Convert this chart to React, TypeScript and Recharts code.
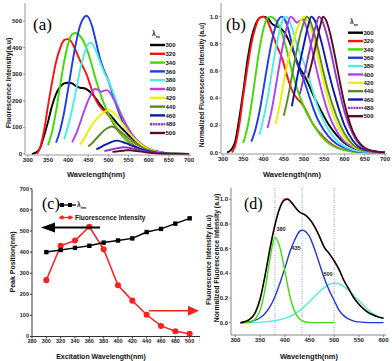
import React from 'react';
import { LineChart, Line, XAxis, YAxis, ReferenceLine } from 'recharts';

// ---------- Panel (a): fluorescence intensity vs wavelength ----------
const a300 = [[310,0],[320,5],[330,21],[340,67],[350,120],[360,180],[370,225],[380,252],[390,265],[400,268],[410,265],[420,255],[430,249],[440,247],[450,239],[460,225],[470,206],[480,185],[490,166],[500,153],[510,137],[520,118],[540,86],[560,56],[580,35],[600,19],[620,9],[640,4],[660,1.5],[700,0]];
const a320 = [[322,0],[330,22],[340,86],[350,180],[360,268],[370,345],[380,397],[390,428],[398,432],[405,428],[415,402],[425,367],[435,333],[445,302],[455,259],[465,216],[475,186],[485,168],[495,155],[505,134],[520,95],[540,60],[560,35],[580,17],[600,9],[630,2],[700,0]];
const a340 = [[350,32],[360,82],[370,160],[380,255],[390,346],[400,414],[410,450],[418,455],[425,450],[435,432],[445,400],[455,355],[465,300],[475,250],[485,205],[495,168],[505,137],[520,100],[540,59],[560,32],[580,16],[600,8],[630,2],[700,0]];
const a360 = [[370,42],[380,88],[390,156],[400,244],[410,338],[420,421],[430,484],[440,515],[445,520],[450,515],[460,478],[470,416],[480,354],[490,312],[500,276],[510,229],[520,182],[530,140],[540,109],[560,62],[580,34],[600,18],[620,8],[650,2],[700,0]];
const a380 = [[390,54],[400,105],[410,167],[420,242],[430,318],[440,376],[450,414],[455,418],[460,414],[470,385],[480,343],[490,305],[500,276],[510,238],[520,196],[530,155],[540,121],[560,71],[580,38],[600,19],[620,8],[650,2],[700,0]];
const a400 = [[410,44],[420,76],[430,118],[440,162],[450,201],[460,233],[467,245],[475,240],[482,234],[490,238],[497,240],[505,228],[515,201],[525,169],[535,137],[545,108],[560,71],[580,39],[600,20],[620,10],[650,2],[700,0]];
const a420 = [[430,35],[440,58],[450,86],[460,111],[470,130],[480,145],[490,158],[500,165],[505,163],[515,153],[525,135],[535,114],[545,92],[560,64],[580,36],[600,18],[620,8],[650,2],[700,0]];
const a440 = [[450,28],[460,41],[470,58],[480,74],[490,89],[500,99],[507,103],[515,100],[525,91],[535,78],[545,65],[560,46],[580,28],[600,14],[620,6],[650,1.5],[700,0]];
const a460 = [[470,17],[480,25],[490,33],[500,40],[510,46.5],[518,50],[525,49],[535,45],[545,39.5],[560,30],[580,19],[600,10],[620,4.5],[650,1],[700,0]];
const a480 = [[490,10.8],[500,14],[510,17.5],[520,20.8],[530,23.5],[537,25],[545,24.3],[555,22],[565,19],[580,13.8],[600,7.5],[620,3.5],[640,1.3],[660,0.4],[700,0]];
const a500 = [[510,7.7],[520,9.4],[530,11.2],[540,13],[547,14],[555,13.6],[565,12.2],[575,10.2],[590,7],[600,5],[620,2.2],[640,0.8],[660,0.3],[700,0]];

// ---------- Panel (b): normalized intensity ----------
const b300 = [[310,0],[320,0.02],[330,0.08],[340,0.25],[350,0.45],[360,0.67],[370,0.84],[380,0.94],[390,0.99],[400,1.0],[410,0.99],[420,0.95],[430,0.93],[440,0.92],[450,0.89],[460,0.84],[470,0.77],[480,0.69],[490,0.62],[500,0.57],[510,0.51],[520,0.44],[540,0.32],[560,0.21],[580,0.13],[600,0.07],[620,0.035],[640,0.015],[660,0.005],[700,0]];
const b320 = [[322,0],[330,0.05],[340,0.2],[350,0.42],[360,0.62],[370,0.8],[380,0.92],[390,0.99],[398,1.0],[405,0.99],[415,0.93],[425,0.85],[435,0.77],[445,0.7],[455,0.6],[465,0.5],[475,0.43],[485,0.39],[495,0.36],[505,0.31],[520,0.22],[540,0.14],[560,0.08],[580,0.04],[600,0.02],[630,0.005],[700,0]];
const b340 = [[350,0.07],[360,0.18],[370,0.35],[380,0.56],[390,0.76],[400,0.91],[410,0.99],[418,1.0],[425,0.99],[435,0.95],[445,0.88],[455,0.78],[465,0.66],[475,0.55],[485,0.45],[495,0.37],[505,0.3],[520,0.22],[540,0.13],[560,0.07],[580,0.035],[600,0.018],[630,0.005],[700,0]];
const b360 = [[370,0.08],[380,0.17],[390,0.3],[400,0.47],[410,0.65],[420,0.81],[430,0.93],[440,0.99],[445,1.0],[450,0.99],[460,0.92],[470,0.8],[480,0.68],[490,0.6],[500,0.53],[510,0.44],[520,0.35],[530,0.27],[540,0.21],[560,0.12],[580,0.065],[600,0.035],[620,0.015],[650,0.004],[700,0]];
const b380 = [[390,0.13],[400,0.25],[410,0.4],[420,0.58],[430,0.76],[440,0.9],[450,0.99],[455,1.0],[460,0.99],[470,0.92],[480,0.82],[490,0.73],[500,0.66],[510,0.57],[520,0.47],[530,0.37],[540,0.29],[560,0.17],[580,0.09],[600,0.045],[620,0.02],[650,0.005],[700,0]];
const b400 = [[410,0.18],[420,0.31],[430,0.48],[440,0.66],[450,0.82],[460,0.95],[467,1.0],[475,0.98],[482,0.955],[490,0.97],[497,0.98],[505,0.93],[515,0.82],[525,0.69],[535,0.56],[545,0.44],[560,0.29],[580,0.16],[600,0.08],[620,0.04],[650,0.01],[700,0]];
const b420 = [[430,0.21],[440,0.35],[450,0.52],[460,0.67],[470,0.79],[480,0.88],[490,0.96],[500,1.0],[505,0.99],[515,0.93],[525,0.82],[535,0.69],[545,0.56],[560,0.39],[580,0.22],[600,0.11],[620,0.05],[650,0.012],[700,0]];
const b440 = [[450,0.27],[460,0.4],[470,0.56],[480,0.72],[490,0.86],[500,0.96],[507,1.0],[515,0.97],[525,0.88],[535,0.76],[545,0.63],[560,0.45],[580,0.27],[600,0.14],[620,0.06],[650,0.015],[700,0]];
const b460 = [[470,0.34],[480,0.5],[490,0.66],[500,0.8],[510,0.93],[518,1.0],[525,0.98],[535,0.9],[545,0.79],[560,0.6],[580,0.38],[600,0.2],[620,0.09],[650,0.02],[700,0]];
const b480 = [[490,0.43],[500,0.56],[510,0.7],[520,0.83],[530,0.94],[537,1.0],[545,0.97],[555,0.88],[565,0.76],[580,0.55],[600,0.3],[620,0.14],[640,0.05],[660,0.015],[700,0]];
const b500 = [[510,0.55],[520,0.67],[530,0.8],[540,0.93],[547,1.0],[555,0.97],[565,0.87],[575,0.73],[590,0.5],[600,0.36],[620,0.16],[640,0.06],[660,0.02],[700,0]];

// ---------- Panel (c): peak position & intensity vs excitation ----------
const excitation = [300,320,340,360,380,400,420,440,460,480,500];
const emissionPeak = [400,410,420,430,445,455,465,495,510,535,560];
const peakIntensity = [267,430,455,520,413,243,170,103,50,25,13];

// ---------- Panel (d): gaussian decomposition ----------
const dTotal = [[310,0],[320,0.01],[330,0.03],[340,0.08],[350,0.19],[360,0.38],[370,0.6],[380,0.79],[390,0.93],[400,0.995],[405,1.0],[410,0.99],[420,0.94],[430,0.895],[440,0.875],[450,0.84],[460,0.78],[470,0.7],[480,0.61],[490,0.56],[500,0.5],[510,0.43],[520,0.34],[530,0.27],[540,0.2],[550,0.15],[560,0.11],[570,0.08],[580,0.06],[590,0.045],[600,0.035]];
const dFit = [[310,0],[320,0.012],[330,0.035],[340,0.085],[350,0.2],[360,0.39],[370,0.61],[380,0.8],[390,0.94],[400,1.005],[405,1.008],[410,0.995],[420,0.945],[430,0.9],[440,0.878],[450,0.842],[460,0.782],[470,0.703],[480,0.612],[490,0.562],[500,0.503],[510,0.432],[520,0.343],[530,0.272],[540,0.203],[550,0.153],[560,0.112],[570,0.082],[580,0.062],[590,0.046],[600,0.036]];
const dPeak380 = [[310,0],[320,0],[330,0.004],[340,0.03],[350,0.1],[360,0.27],[370,0.52],[380,0.69],[390,0.61],[400,0.42],[410,0.22],[420,0.09],[430,0.03],[440,0.008],[450,0.002],[460,0],[500,0]];
const dPeak435 = [[310,0],[320,0.003],[330,0.008],[340,0.02],[350,0.04],[360,0.075],[370,0.13],[380,0.21],[390,0.32],[400,0.44],[410,0.57],[420,0.67],[430,0.74],[435,0.75],[440,0.745],[450,0.7],[460,0.6],[470,0.48],[480,0.36],[490,0.26],[500,0.18],[510,0.1],[520,0.055],[530,0.028],[540,0.013],[550,0.006],[560,0.002],[580,0],[600,0]];
const dPeak500 = [[310,0],[340,0.002],[360,0.006],[380,0.015],[400,0.035],[420,0.07],[440,0.13],[450,0.17],[460,0.21],[470,0.25],[480,0.285],[490,0.31],[500,0.32],[510,0.315],[520,0.29],[530,0.26],[540,0.22],[550,0.18],[560,0.14],[570,0.1],[580,0.07],[590,0.05],[600,0.035]];
const dPeakCenters = [380,435,500];

const exLabels = ['300','320','340','360','380','400','420','440','460','480','500'];
const seriesColors = ['#000000','#ff1010','#3cdc00','#1e3ce8','#48f0e0','#b040f0','#eaf000','#5a8a22','#0a1ca8','#9034d4','#5a0c22'];

const aSeries = [a300,a320,a340,a360,a380,a400,a420,a440,a460,a480,a500];
const bSeries = [b300,b320,b340,b360,b380,b400,b420,b440,b460,b480,b500];

const toPts = (arr: number[][]) => arr.map(([x, y]) => ({ x, y }));
const FONT = "'Liberation Sans', Arial, sans-serif";
const SERIF = "'Liberation Serif', 'Times New Roman', serif";
const tickStyle = { fontSize: 6, fontFamily: FONT, fontWeight: 700, fill: '#222' };

function Frame({ domainX, domainY, color }: any) {
  return [
    <XAxis key="tx" xAxisId="top" orientation="top" type="number" domain={domainX} allowDataOverflow tick={false} tickLine={false} height={0} stroke={color} />,
    <YAxis key="ry" yAxisId="right" orientation="right" type="number" domain={domainY} allowDataOverflow tick={false} tickLine={false} width={0} stroke={color} />,
  ];
}

function PanelA() {
  const dx = [293, 705];
  const dy = [-4, 567.7];
  return (
    <LineChart width={196} height={180} margin={{ top: 3, right: 5, bottom: 0, left: 0 }}>
      <XAxis type="number" dataKey="x" domain={dx} allowDataOverflow ticks={[300,350,400,450,500,550,600,650,700]} interval={0} height={25} tickSize={2} tickMargin={1} tick={tickStyle} stroke="#999" />
      <YAxis type="number" dataKey="y" domain={dy} allowDataOverflow ticks={[0,100,200,300,400,500]} interval={0} width={25} tickSize={2} tickMargin={1} tick={tickStyle} stroke="#999" />
      {Frame({ domainX: dx, domainY: dy, color: '#999' })}
      {aSeries.map((s, i) => (
        <Line key={i} data={toPts(s)} dataKey="y" type="monotone" stroke={seriesColors[i]} strokeWidth={1.9} dot={false} isAnimationActive={false} />
      ))}
    </LineChart>
  );
}

function PanelB() {
  const dx = [295, 705];
  const dy = [-0.011, 1.1];
  return (
    <LineChart width={196} height={180} margin={{ top: 3, right: 5, bottom: 0, left: 0 }}>
      <XAxis type="number" dataKey="x" domain={dx} allowDataOverflow ticks={[300,350,400,450,500,550,600,650,700]} interval={0} height={26} tickSize={2} tickMargin={1} tick={tickStyle} stroke="#999" />
      <YAxis type="number" dataKey="y" domain={dy} allowDataOverflow ticks={[0,0.2,0.4,0.6,0.8,1.0]} tickFormatter={(v: number) => v.toFixed(1)} interval={0} width={25} tickSize={2} tickMargin={1} tick={tickStyle} stroke="#999" />
      {Frame({ domainX: dx, domainY: dy, color: '#999' })}
      {bSeries.map((s, i) => (
        <Line key={i} data={toPts(s)} dataKey="y" type="monotone" stroke={seriesColors[i]} strokeWidth={1.9} dot={false} isAnimationActive={false} />
      ))}
    </LineChart>
  );
}

const SquareDot = (p: any) => (
  <rect key={`sq-${p.index}`} x={p.cx - 2.2} y={p.cy - 2.2} width={4.4} height={4.4} fill="#000" />
);

function PanelC() {
  const data = excitation.map((x, i) => ({ x, em: emissionPeak[i], fi: peakIntensity[i] }));
  return (
    <LineChart width={212} height={186} data={data} margin={{ top: 13.8, right: 8, bottom: 0, left: 0 }}>
      <XAxis type="number" dataKey="x" domain={[280, 520]} allowDataOverflow ticks={[280,300,320,340,360,380,400,420,440,460,480,500,520]} interval={0} height={24.5} tickSize={2} tickMargin={1} tick={{ ...tickStyle, fontSize: 5.5 }} stroke="#333" />
      <YAxis type="number" domain={[0, 700]} allowDataOverflow ticks={[0,100,200,300,400,500,600,700]} interval={0} width={32} tickSize={2} tickMargin={1} tick={{ ...tickStyle, fontSize: 5.5 }} stroke="#333" />
      <Line dataKey="fi" type="linear" stroke="#ff2020" strokeWidth={1.5} dot={{ r: 2.3, fill: '#ff2020', stroke: '#ff2020' }} isAnimationActive={false} />
      <Line dataKey="em" type="linear" stroke="#000" strokeWidth={1.5} dot={SquareDot} isAnimationActive={false} />
    </LineChart>
  );
}

function PanelD() {
  const dx = [291, 605];
  const dy = [-0.1, 1.094];
  return (
    <LineChart width={196} height={186} margin={{ top: 12.7, right: 6, bottom: 0, left: 0 }}>
      <XAxis type="number" dataKey="x" domain={dx} allowDataOverflow ticks={[300,350,400,450,500,550,600]} interval={0} height={26} tickSize={2} tickMargin={1} tick={tickStyle} stroke="#888" />
      <YAxis type="number" dataKey="y" domain={dy} allowDataOverflow ticks={[0,0.2,0.4,0.6,0.8,1.0]} tickFormatter={(v: number) => v.toFixed(1)} interval={0} width={35} tickSize={2} tickMargin={1} tick={tickStyle} stroke="#888" />
      {Frame({ domainX: dx, domainY: dy, color: '#888' })}
      {dPeakCenters.map((c) => (
        <ReferenceLine key={c} x={c} stroke="#2a3580" strokeWidth={0.6} strokeDasharray="0.8 1.6" />
      ))}
      <Line data={toPts(dPeak500)} dataKey="y" type="monotone" stroke="#50ecdc" strokeWidth={1.4} dot={false} isAnimationActive={false} />
      <Line data={toPts(dPeak435)} dataKey="y" type="monotone" stroke="#2034e0" strokeWidth={1.4} dot={false} isAnimationActive={false} />
      <Line data={toPts(dPeak380)} dataKey="y" type="monotone" stroke="#40dc10" strokeWidth={1.4} dot={false} isAnimationActive={false} />
      <Line data={toPts(dFit)} dataKey="y" type="monotone" stroke="#ff6060" strokeWidth={1.2} dot={false} isAnimationActive={false} />
      <Line data={toPts(dTotal)} dataKey="y" type="monotone" stroke="#000" strokeWidth={1.5} dot={false} isAnimationActive={false} />
    </LineChart>
  );
}

function LegendEx({ x, y0, step }: { x: number; y0: number; step: number }) {
  return (
    <g>
      <text x={x + 2} y={y0 - 9} fontFamily={FONT} fontWeight={700} fontSize={6.5} fill="#111">
        λ<tspan dy={2} fontSize={4}>ex</tspan>
      </text>
      {exLabels.map((lab, i) => (
        <g key={lab}>
          <line x1={x} x2={x + 15} y1={y0 + i * step} y2={y0 + i * step} stroke={seriesColors[i]} strokeWidth={2.4} strokeDasharray={i === 9 ? '2 0.7' : undefined} />
          <text x={x + 15.5} y={y0 + i * step + 2.2} fontFamily={FONT} fontWeight={700} fontSize={6} fill="#111">{lab}</text>
        </g>
      ))}
    </g>
  );
}

function Overlay() {
  const title = { fontFamily: FONT, fontWeight: 700, fill: '#111' } as const;
  return (
    <svg width={392} height={361} style={{ position: 'absolute', left: 0, top: 0, pointerEvents: 'none' }}>
      {/* panel letters */}
      <text x={33} y={30} fontFamily={SERIF} fontSize={17} fill="#000">(a)</text>
      <text x={226} y={30} fontFamily={SERIF} fontSize={17} fill="#000">(b)</text>
      <text x={42} y={209} fontFamily={SERIF} fontSize={16} fill="#000">(c)</text>
      <text x={244} y={209} fontFamily={SERIF} fontSize={16} fill="#000">(d)</text>

      {/* axis titles */}
      <text x={96} y={176.5} textAnchor="middle" fontSize={7.5} {...title}>Wavelength(nm)</text>
      <text transform="translate(10.5,83) rotate(-90)" textAnchor="middle" fontSize={7} {...title}>Fluorescence Intensity(a.u)</text>
      <text x={292} y={176.5} textAnchor="middle" fontSize={7.5} {...title}>Wavelength(nm)</text>
      <text transform="translate(203.5,85) rotate(-90)" textAnchor="middle" fontSize={6.6} {...title}>Normalized Fluorescence Intensity (a.u)</text>
      <text x={101} y={358.5} textAnchor="middle" fontSize={7} {...title}>Excitation Wavelength(nm)</text>
      <text transform="translate(15,262) rotate(-90)" textAnchor="middle" fontSize={7} {...title}>Peak Position(nm)</text>
      <text x={309} y={358.5} textAnchor="middle" fontSize={7.5} {...title}>Wavelength(nm)</text>
      <text transform="translate(211,260) rotate(-90)" textAnchor="middle" fontSize={6.8} {...title}>Fluorescence Intensity (a.u)</text>
      <text transform="translate(219,258) rotate(-90)" textAnchor="middle" fontSize={6.8} {...title}>Normalized Fluorescence Intensity (a.u)</text>

      {/* legends (a), (b) */}
      <LegendEx x={150} y0={45} step={8.8} />
      <LegendEx x={348} y0={32.7} step={8.35} />

      {/* legend (c) */}
      <line x1={58} x2={76} y1={205} y2={205} stroke="#000" strokeWidth={1.3} />
      <rect x={60} y={203} width={4} height={4} fill="#000" />
      <rect x={68} y={203} width={4} height={4} fill="#000" />
      <text x={77} y={207} fontFamily={FONT} fontWeight={700} fontSize={6.5} fill="#111">λ<tspan dy={2} fontSize={4}>em</tspan></text>
      <line x1={59} x2={73} y1={217.5} y2={217.5} stroke="#ff2020" strokeWidth={1.3} />
      <circle cx={62} cy={217.5} r={2} fill="#ff2020" />
      <circle cx={70} cy={217.5} r={2} fill="#ff2020" />
      <text x={75} y={219.8} fontFamily={FONT} fontWeight={700} fontSize={6.5} fill="#111">Fluorescence Intensity</text>

      {/* arrows (c) */}
      <line x1={54} x2={100} y1={227.5} y2={227.5} stroke="#000" strokeWidth={2} />
      <polygon points="41,227.5 55,222.5 55,232.5" fill="#000" />
      <line x1={149} x2={189} y1={310.8} y2={310.8} stroke="#ff2020" strokeWidth={1.5} />
      <polygon points="199,310.8 188,305.8 188,315.8" fill="#ff2020" />

      {/* peak labels (d) */}
      <text x={281} y={231} textAnchor="middle" fontFamily={FONT} fontWeight={700} fontSize={5.5} fill="#222">380</text>
      <text x={296} y={250} textAnchor="middle" fontFamily={FONT} fontWeight={700} fontSize={5.5} fill="#222">435</text>
      <text x={328} y={276} textAnchor="middle" fontFamily={FONT} fontWeight={700} fontSize={5.5} fill="#222">500</text>
    </svg>
  );
}

export default function App() {
  return (
    <div style={{ position: 'absolute', left: 0, top: 0, width: 392, height: 361, background: '#fff', overflow: 'hidden' }}>
      <div style={{ position: 'absolute', left: 0, top: 0 }}><PanelA /></div>
      <div style={{ position: 'absolute', left: 196, top: 0 }}><PanelB /></div>
      <div style={{ position: 'absolute', left: 0, top: 175, width: 200, height: 186, overflow: 'hidden' }}><PanelC /></div>
      <div style={{ position: 'absolute', left: 196, top: 175 }}><PanelD /></div>
      <Overlay />
    </div>
  );
}
